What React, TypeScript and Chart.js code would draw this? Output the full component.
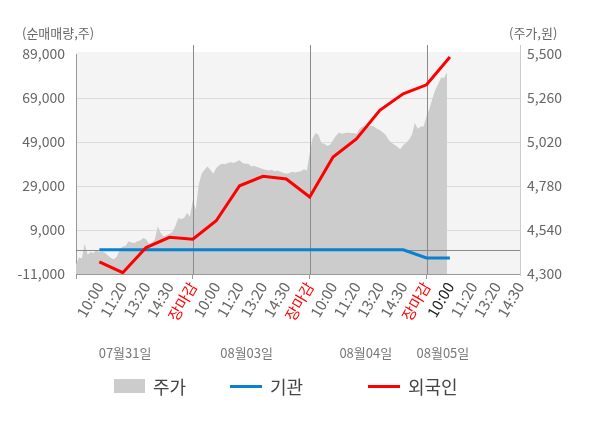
import React, { useEffect, useRef } from 'react';
import { Chart, registerables } from 'chart.js';

Chart.register(...registerables);

const FONT = "'Noto Sans CJK KR', 'Noto Sans', sans-serif";

// x slots: one per time label, slot 0 is the session start (no label)
const timeLabels = [
  '', '10:00', '11:20', '13:20', '14:30', '장마감',
  '10:00', '11:20', '13:20', '14:30', '장마감',
  '10:00', '11:20', '13:20', '14:30', '장마감',
  '10:00', '11:20', '13:20', '14:30',
];
const closeSlots = [5, 10, 15];
const currentSlot = 16;
const dayLabels = ['07월31일', '08월03일', '08월04일', '08월05일'];
const dayLabelSlots = [2.1, 7.3, 12.4, 15.7];

const volumeTicks = [-11000, 9000, 29000, 49000, 69000, 89000];
const priceTicks = [4300, 4540, 4780, 5020, 5260, 5500];

// net buying, one value per labelled slot starting at slot 1
const institution = [0, 0, 0, 0, 0, 0, 0, 0, 0, 0, 0, 0, 0, 0, -3700, -3700];
const foreigner = [
  -5500, -10400, 1000, 5700, 4800, 13200, 29100, 33400,
  32200, 24000, 42200, 50400, 63400, 70900, 75000, 87600,
];

// stock price, sampled 8 times per slot from slot 0
const samplesPerSlot = 8;
const price = [
  4350, 4390, 4385, 4465, 4405, 4420, 4415, 4430,
  4420, 4423, 4414, 4400, 4387, 4381, 4396, 4432,
  4450, 4454, 4478, 4472, 4469, 4478, 4483, 4496,
  4490, 4465, 4472, 4490, 4560, 4523, 4505, 4512,
  4520, 4529, 4560, 4605, 4600, 4605, 4633, 4614,
  4702, 4651, 4787, 4847, 4869, 4887, 4869, 4847,
  4878, 4893, 4902, 4898, 4905, 4909, 4905, 4914,
  4920, 4905, 4902, 4902, 4887, 4891, 4883, 4878,
  4873, 4869, 4865, 4869, 4860, 4865, 4858, 4851,
  4847, 4851, 4858, 4854, 4858, 4861, 4872, 4865,
  4960, 5041, 5069, 5060, 5014, 5011, 5000, 5005,
  5029, 5054, 5072, 5065, 5069, 5072, 5069, 5069,
  5063, 5090, 5105, 5105, 5105, 5109, 5105, 5092,
  5085, 5072, 5060, 5032, 5016, 5005, 4994, 4980,
  5002, 5016, 5032, 5060, 5123, 5092, 5105, 5105,
  5160, 5201, 5256, 5305, 5336, 5372, 5369, 5400,
];

const fmt = (v: number) => v.toLocaleString('en-US');

const decor = {
  id: 'decor',
  beforeDraw(chart: any) {
    const { ctx, chartArea: a } = chart;
    ctx.save();
    ctx.fillStyle = '#f4f4f4';
    ctx.fillRect(a.left, a.top - 2, a.right - a.left, a.bottom - a.top + 2);
    ctx.restore();
  },
  afterDatasetDraw(chart: any, args: any) {
    if (args.index !== 0) return;
    const { ctx, chartArea: a, scales } = chart;
    ctx.save();
    ctx.lineWidth = 1;
    ctx.strokeStyle = '#8a8a8a';
    const y0 = Math.round(scales.y.getPixelForValue(0)) + 0.5;
    ctx.beginPath();
    ctx.moveTo(a.left, y0);
    ctx.lineTo(a.right, y0);
    ctx.stroke();
    closeSlots.forEach((s) => {
      const x = Math.round(scales.x.getPixelForValue(s)) + 0.5;
      ctx.beginPath();
      ctx.moveTo(x, a.top - 9);
      ctx.lineTo(x, a.bottom);
      ctx.stroke();
    });
    ctx.strokeStyle = '#cccccc';
    const xr = Math.round(a.right) + 0.5;
    ctx.beginPath();
    ctx.moveTo(xr, a.top - 9);
    ctx.lineTo(xr, a.bottom + 2);
    ctx.stroke();
    ctx.restore();
  },
  afterDraw(chart: any) {
    const { ctx, chartArea: a, scales } = chart;
    ctx.save();
    ctx.fillStyle = '#666';
    ctx.font = `13px ${FONT}`;
    ctx.textBaseline = 'middle';
    ctx.textAlign = 'left';
    ctx.fillText('(순매매량,주)', 22, 33);
    ctx.fillText('(주가,원)', 509, 33);
    ctx.fillStyle = '#777';
    ctx.textAlign = 'center';
    dayLabels.forEach((d, i) => {
      ctx.fillText(d, scales.x.getPixelForValue(dayLabelSlots[i]), a.bottom + 79);
    });
    ctx.restore();
  },
};

const LegendItem: React.FC<{ left: number; label: string; swatch: React.CSSProperties }> = ({ left, label, swatch }) => (
  <div style={{ position: 'absolute', left, top: 372, height: 28, display: 'flex', alignItems: 'center' }}>
    <div style={swatch} />
    <span style={{ marginLeft: 8, fontSize: 18, color: '#444', fontFamily: FONT }}>{label}</span>
  </div>
);

const App: React.FC = () => {
  const canvasRef = useRef<HTMLCanvasElement | null>(null);
  const chartRef = useRef<Chart | null>(null);

  useEffect(() => {
    const ctx = canvasRef.current?.getContext('2d');
    if (!ctx) return;
    if (chartRef.current) chartRef.current.destroy();

    chartRef.current = new Chart(ctx, {
      type: 'line',
      data: {
        datasets: [
          {
            label: '주가',
            data: price.map((v, i) => ({ x: i / samplesPerSlot, y: v })),
            yAxisID: 'y1',
            fill: 'start',
            backgroundColor: '#cccccc',
            borderWidth: 0,
            pointRadius: 0,
            tension: 0,
            order: 3,
          },
          {
            label: '기관',
            data: institution.map((v, i) => ({ x: i + 1, y: v })),
            yAxisID: 'y',
            borderColor: '#0a80d0',
            borderWidth: 3,
            pointRadius: 0,
            fill: false,
            tension: 0,
            order: 2,
          },
          {
            label: '외국인',
            data: foreigner.map((v, i) => ({ x: i + 1, y: v })),
            yAxisID: 'y',
            borderColor: '#ff0000',
            borderWidth: 3,
            pointRadius: 0,
            fill: false,
            tension: 0,
            order: 1,
          },
        ],
      },
      options: {
        animation: false,
        responsive: false,
        events: [],
        layout: { padding: { top: 54, left: 0, right: 0, bottom: 0 } },
        plugins: { legend: { display: false }, tooltip: { enabled: false } },
        scales: {
          x: {
            type: 'linear',
            min: 0,
            max: timeLabels.length - 1,
            afterFit: (s: any) => { s.height = 154; },
            afterBuildTicks: (s: any) => { s.ticks = timeLabels.map((_, i) => ({ value: i })); },
            border: { display: true, color: '#999' },
            grid: {
              drawOnChartArea: false,
              drawTicks: true,
              tickLength: 5,
              color: (c: any) => (c.tick && (c.tick.value === 0 || closeSlots.includes(c.tick.value)) ? '#999' : 'rgba(0,0,0,0)'),
            },
            ticks: {
              autoSkip: false,
              minRotation: 60,
              maxRotation: 60,
              padding: 0,
              font: { family: FONT, size: 15 },
              color: (c: any) => {
                const v = c.tick ? c.tick.value : -1;
                if (timeLabels[v] === '장마감') return '#ff0000';
                if (v === currentSlot) return '#222';
                return '#666';
              },
              callback: (v: any) => timeLabels[v] ?? '',
            },
          },
          y: {
            position: 'left',
            min: volumeTicks[0],
            max: volumeTicks[volumeTicks.length - 1],
            afterFit: (s: any) => { s.width = 76; },
            afterBuildTicks: (s: any) => { s.ticks = volumeTicks.map((v) => ({ value: v })); },
            border: { display: true, color: '#999' },
            grid: {
              drawTicks: false,
              color: (c: any) => (c.tick && (c.tick.value === volumeTicks[0] || c.tick.value === volumeTicks[volumeTicks.length - 1]) ? 'rgba(0,0,0,0)' : '#dcdcdc'),
            },
            ticks: {
              padding: 11,
              font: { family: FONT, size: 14 },
              color: '#666',
              callback: (v: any) => fmt(v),
            },
          },
          y1: {
            position: 'right',
            min: priceTicks[0],
            max: priceTicks[priceTicks.length - 1],
            afterFit: (s: any) => { s.width = 80; },
            afterBuildTicks: (s: any) => { s.ticks = priceTicks.map((v) => ({ value: v })); },
            border: { display: false },
            grid: { display: false, drawTicks: false },
            ticks: {
              padding: 7,
              font: { family: FONT, size: 14 },
              color: '#666',
              callback: (v: any) => fmt(v),
            },
          },
        },
      },
      plugins: [decor],
    } as any);

    return () => {
      if (chartRef.current) {
        chartRef.current.destroy();
        chartRef.current = null;
      }
    };
  }, []);

  return (
    <div style={{ position: 'absolute', left: 0, top: 0, width: 600, height: 428, background: '#fff' }}>
      <canvas ref={canvasRef} width={600} height={428} style={{ display: 'block' }} />
      <LegendItem left={114} label="주가" swatch={{ width: 31, height: 14, background: '#cccccc' }} />
      <LegendItem left={230} label="기관" swatch={{ width: 32, height: 3, background: '#0a80d0' }} />
      <LegendItem left={368} label="외국인" swatch={{ width: 32, height: 3, background: '#ff0000' }} />
    </div>
  );
};

export default App;
